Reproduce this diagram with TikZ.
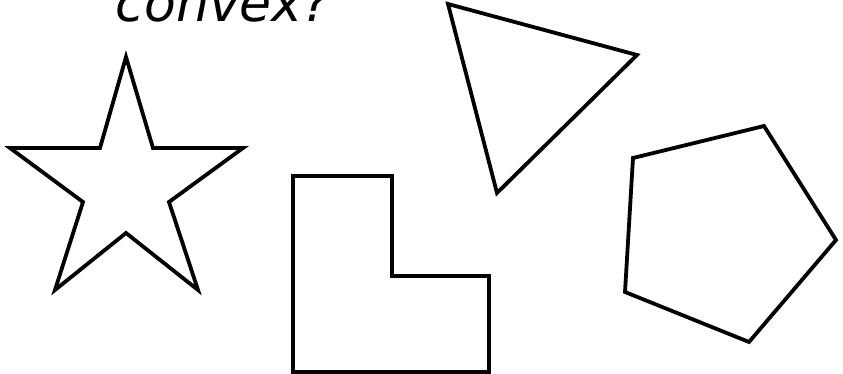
\documentclass[tikz,border=0pt]{standalone}
\usepackage{fontspec}
\setmainfont{DejaVu Sans}
\begin{document}
\begin{tikzpicture}[x=1pt,y=-1pt,
  shape outline/.style={draw=black,line width=3.8pt,line join=miter}]
\useasboundingbox (0,0) rectangle (843,374);
\clip (0,0) rectangle (843,374);
% title (cut off at the top, as in the reference)
\node[anchor=base,inner sep=0pt,font=\fontsize{52}{60}\selectfont\itshape] (title) at (223,22) {convex?};
% star
\draw[shape outline] (126,57) -- (153,148) -- (243,148) -- (169,202) -- (198,290)
  -- (126,233) -- (55,290) -- (83,202) -- (10,148) -- (100,148) -- cycle;
% L shape
\draw[shape outline] (293,176) -- (392,176) -- (392,276) -- (489,276) -- (489,372)
  -- (293,372) -- cycle;
% triangle
\draw[shape outline] (448,4) -- (637,55) -- (497,193) -- cycle;
% pentagon
\draw[shape outline] (633,158) -- (764,126) -- (836,240) -- (749,342) -- (625,292) -- cycle;
\end{tikzpicture}
\end{document}
